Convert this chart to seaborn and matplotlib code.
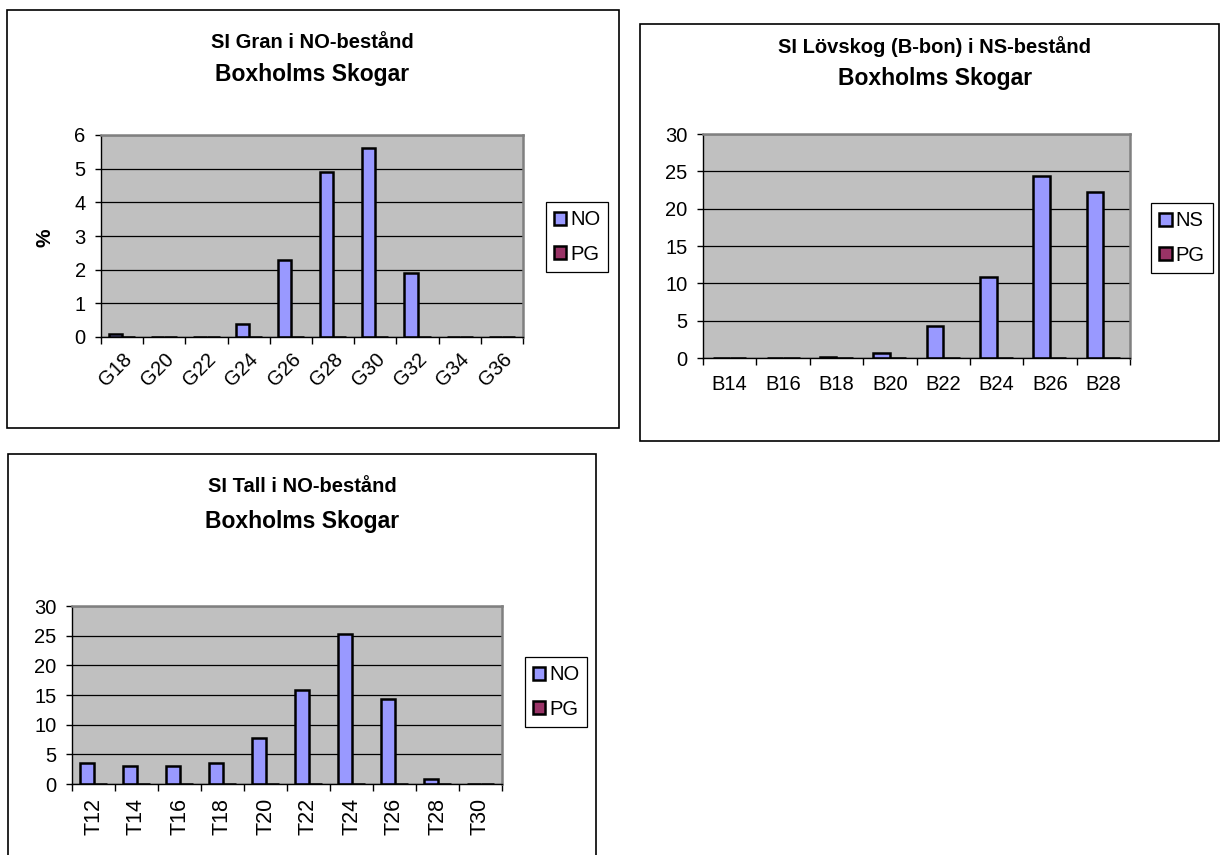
import pandas as pd
import matplotlib.pyplot as plt
import numpy as np
import seaborn as sns
from matplotlib.patches import Rectangle

# --- data ---
gran_kat = ["G18", "G20", "G22", "G24", "G26", "G28", "G30", "G32", "G34", "G36"]
gran_no = [0.1, 0, 0, 0.4, 2.3, 4.9, 5.6, 1.9, 0, 0]
gran_pg = [0, 0, 0, 0, 0, 0, 0, 0, 0, 0]

lov_kat = ["B14", "B16", "B18", "B20", "B22", "B24", "B26", "B28"]
lov_ns = [0, 0, 0.2, 0.7, 4.3, 10.9, 24.4, 22.2]
lov_pg = [0, 0, 0, 0, 0, 0, 0, 0]

tall_kat = ["T12", "T14", "T16", "T18", "T20", "T22", "T24", "T26", "T28", "T30"]
tall_no = [3.6, 3.0, 3.0, 3.6, 7.7, 15.8, 25.2, 14.4, 0.9, 0]
tall_pg = [0, 0, 0, 0, 0, 0, 0, 0, 0, 0]

sns.set_style("white")
plt.rcParams["font.family"] = ["Liberation Sans", "DejaVu Sans"]
plt.rcParams["text.color"] = "black"
plt.rcParams["xtick.color"] = "black"
plt.rcParams["ytick.color"] = "black"
plt.rcParams["axes.labelcolor"] = "black"

W, H = 1224, 855
fig = plt.figure(figsize=(12.24, 8.55), dpi=100)


def px_axes(x0, y0, x1, y1):
    return fig.add_axes([x0 / W, 1 - y1 / H, (x1 - x0) / W, (y1 - y0) / H])


def frame(x0, y0, x1, y1):
    fig.add_artist(Rectangle((x0 / W, 1 - y1 / H), (x1 - x0) / W, (y1 - y0) / H,
                             transform=fig.transFigure, fill=False,
                             edgecolor="black", linewidth=1.2))


def title(cx, y1, y2, t1):
    fig.text(cx / W, 1 - y1 / H, t1, ha="center", va="center",
             fontsize=14.5, fontweight="bold")
    fig.text(cx / W, 1 - y2 / H, "Boxholms Skogar", ha="center", va="center",
             fontsize=16.5, fontweight="bold")


def chart(ax, kat, namn, s1, s2, ymax, step, rot, leg_xy):
    n = len(kat)
    df = pd.DataFrame({"kat": kat + kat,
                       "serie": [namn] * n + ["PG"] * n,
                       "varde": s1 + s2})
    sns.barplot(data=df, x="kat", y="varde", hue="serie",
                palette=["#9999FF", "#993366"], saturation=1,
                width=0.62, edgecolor="black", linewidth=1.8, ax=ax)
    ax.set_facecolor("#C0C0C0")
    ax.set_axisbelow(True)
    ax.yaxis.grid(True, color="black", linewidth=0.9)
    ax.set_xlim(-0.5, n - 0.5)
    ax.set_ylim(0, ymax)
    ax.set_yticks(np.arange(0, ymax + 0.1, step))
    ax.set_xlabel("")
    ax.set_ylabel("")
    for s in ["top", "right"]:
        ax.spines[s].set_color("#808080")
        ax.spines[s].set_linewidth(1.8)
    for s in ["left", "bottom"]:
        ax.spines[s].set_color("black")
        ax.spines[s].set_linewidth(1)
    ax.tick_params(axis="y", length=4, width=1, color="black", pad=7,
                   labelsize=14.5, left=True)
    ax.set_xticks(range(n))
    ax.set_xticks(np.arange(-0.5, n), minor=True)
    ax.tick_params(axis="x", which="minor", length=5, width=1,
                   color="black", bottom=True)
    if rot == 45:
        ax.set_xticklabels(kat, rotation=45, ha="right", rotation_mode="anchor")
        ax.tick_params(axis="x", which="major", length=0, pad=9, labelsize=14.5)
    elif rot == 90:
        ax.set_xticklabels(kat, rotation=90)
        ax.tick_params(axis="x", which="major", length=0, pad=10, labelsize=15.5)
    else:
        ax.set_xticklabels(kat)
        ax.tick_params(axis="x", which="major", length=0, pad=12, labelsize=14.5)
    handles, labels = ax.get_legend_handles_labels()
    for h in handles:
        h.set_edgecolor("black")
        h.set_linewidth(1.8)
    leg = ax.legend(handles, labels, loc="center",
                    bbox_to_anchor=(leg_xy[0] / W, 1 - leg_xy[1] / H),
                    bbox_transform=fig.transFigure, fontsize=14.5,
                    frameon=True, fancybox=False, edgecolor="black",
                    framealpha=1, borderpad=0.4, labelspacing=0.75,
                    handlelength=0.6, handleheight=0.6, handletextpad=0.2,
                    borderaxespad=0)
    leg.get_frame().set_linewidth(0.9)


# chart 1: Gran
frame(7, 10, 619, 428)
title(312, 42, 75, "SI Gran i NO-bestånd")
ax1 = px_axes(101, 135, 523, 337)
chart(ax1, gran_kat, "NO", gran_no, gran_pg, 6, 1, 45, (577, 237))
fig.text(45 / W, 1 - 238 / H, "%", rotation=90, ha="center", va="center",
         fontsize=15, fontweight="bold")

# chart 2: Lövskog
frame(640, 24, 1219, 441)
title(935, 47, 79, "SI Lövskog (B-bon) i NS-bestånd")
ax2 = px_axes(703, 134, 1130, 358)
chart(ax2, lov_kat, "NS", lov_ns, lov_pg, 30, 5, 0, (1182, 238))

# chart 3: Tall
frame(8, 454, 596, 900)
title(302, 487, 521, "SI Tall i NO-bestånd")
ax3 = px_axes(72, 606, 502, 784)
chart(ax3, tall_kat, "NO", tall_no, tall_pg, 30, 5, 90, (556, 692))

fig.savefig("out.png", dpi=100)
